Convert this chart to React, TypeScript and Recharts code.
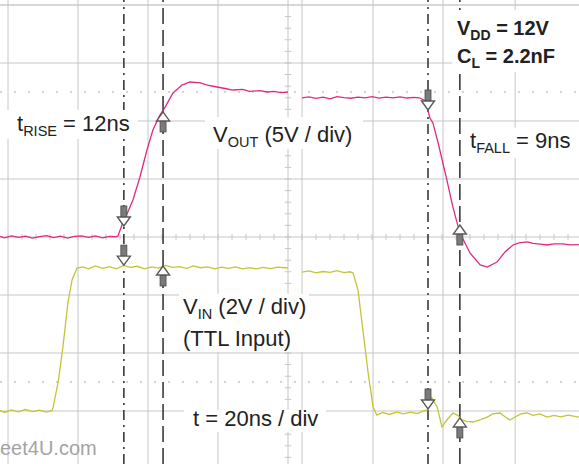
import { LineChart, Line, XAxis, YAxis, ReferenceLine, ReferenceDot } from 'recharts';

// Scope capture: 20 ns/div horizontally, VOUT 5 V/div, VIN 2 V/div.
// Left half shows the rising edge, right half the falling edge (two captures stitched).

const voutLeftT = [-2.3, -1, 1, 3, 5, 7, 9, 11, 13, 15, 17, 19, 21, 23, 25, 27, 29, 30.8, 31.4, 32.9, 34.3, 35.7, 37.7, 39.7, 41.4, 43.4, 44.9, 47.1, 49.7, 52, 54.9, 57, 59.7, 62, 64.3, 67, 69, 72, 74, 76, 78, 80];
const voutLeftV = [0.05, -0.08, 0.1, -0.03, 0.08, -0.1, 0.04, 0.12, -0.05, 0.07, -0.09, 0.06, 0.1, -0.04, 0.09, -0.07, 0.05, 0.02, 0.09, 1.3, 2.2, 3.19, 5.17, 7.5, 9.22, 10.5, 11.2, 12.4, 13.1, 13.36, 13.28, 13.1, 12.93, 12.8, 12.67, 12.72, 12.55, 12.62, 12.5, 12.56, 12.45, 12.5];

const voutRightT = [84, 86, 88, 90, 92, 94, 96, 98, 100, 102, 104, 106, 108, 110, 112, 114, 116, 117.5, 119.5, 120, 120.5, 121.4, 122.9, 125.4, 127.1, 129.1, 129.7, 132, 134.9, 136.9, 139.7, 142, 144.3, 146, 148.3, 150, 152, 154, 156, 158.6, 160.5, 163.1];
const voutRightV = [12.0, 12.08, 11.95, 12.05, 11.9, 12.1, 12.02, 11.96, 12.06, 12.0, 12.1, 11.97, 12.05, 12.0, 12.08, 11.98, 12.03, 12.0, 11.7, 10.9, 10.3, 9.83, 8.1, 4.91, 2.59, 0.34, 0, -1.38, -2.41, -2.59, -2.16, -1.29, -0.69, -0.5, -0.43, -0.55, -0.62, -0.69, -0.6, -0.6, -0.68, -0.66];

const vinLeftT = [-2.3, -1, 1, 3, 5, 7, 9, 11, 12.6, 12.9, 14.3, 15.7, 17.1, 18.3, 19.7, 21.4, 23, 25, 27, 29, 31, 33, 35, 37, 39, 41, 43, 45, 47, 49, 51, 53, 55, 57, 59, 61, 63, 65, 67, 69, 71, 73, 75, 77, 80];
const vinLeftV = [0.02, -0.05, 0.04, -0.03, 0.05, -0.02, 0.03, -0.04, 0.02, 0.14, 0.97, 2.21, 3.72, 4.52, 4.93, 4.97, 4.9, 5.0, 4.92, 4.98, 4.9, 5.02, 4.95, 4.99, 4.9, 4.97, 4.93, 5.02, 4.95, 4.98, 4.92, 5.0, 4.94, 4.97, 4.9, 4.96, 4.92, 4.97, 4.9, 4.94, 4.9, 4.95, 4.91, 4.96, 4.93];

const vinRightT = [84, 86, 88, 90, 92, 94, 96, 97.7, 98.6, 100, 101.4, 102.9, 104.3, 105.4, 107, 109, 111, 113, 115, 117, 118.6, 119.7, 121.1, 122.6, 124, 125.4, 127.1, 128.5, 129.7, 131, 132.9, 135, 136.9, 138.5, 140.6, 142, 143.4, 145, 146.5, 148.3, 150, 152, 154, 156, 158, 160, 163.1];
const vinRightV = [4.79, 4.83, 4.76, 4.81, 4.78, 4.84, 4.77, 4.8, 4.76, 4.17, 2.79, 1.31, 0.14, -0.14, -0.05, -0.12, -0.03, -0.1, -0.04, -0.09, 0.0, 0.03, 0.45, 0.14, -0.55, -0.31, -0.07, -0.15, -0.31, -0.36, -0.38, -0.3, -0.21, -0.1, -0.07, -0.2, -0.31, -0.2, -0.1, -0.07, -0.15, -0.1, -0.21, -0.15, -0.2, -0.14, -0.21];

// graticule (time in ns, level in divisions)
const gridTimes = [0, 20, 40, 60, 80, 84, 104.3, 124.3, 144.9];
const gridDivs = [-3, -2, -1, 0, 1, 2, 3, 4];
const dottedDivs = [2.5, -2.5];

// cursors: 10%/90% points of each edge
const dashDotCursors = [33.1, 120];
const dashedCursors = [44.3, 129.1];

const markers = [
  { t: 33.1, v: 0.95, trace: 'vout', up: false },
  { t: 44.3, v: 10.78, trace: 'vout', up: true },
  { t: 33.1, v: 5.03, trace: 'vin', up: false },
  { t: 44.3, v: 5.0, trace: 'vin', up: true },
  { t: 120, v: 10.95, trace: 'vout', up: false },
  { t: 129.1, v: 1.03, trace: 'vout', up: true },
  { t: 120, v: 0.07, trace: 'vin', up: false },
  { t: 129.1, v: -0.24, trace: 'vin', up: true },
];

const voutDiv = (v: number) => v / 5;
const vinDiv = (v: number) => v / 2 - 3;

type Row = { t: number; voutL?: number; voutR?: number; vinL?: number; vinR?: number };
const rows: Row[] = [];
const addSeries = (ts: number[], vs: number[], key: keyof Row, toDiv: (v: number) => number) => {
  ts.forEach((t, i) => rows.push({ t, [key]: toDiv(vs[i]) }));
};
addSeries(voutLeftT, voutLeftV, 'voutL', voutDiv);
addSeries(voutRightT, voutRightV, 'voutR', voutDiv);
addSeries(vinLeftT, vinLeftV, 'vinL', vinDiv);
addSeries(vinRightT, vinRightV, 'vinR', vinDiv);
rows.sort((a, b) => a.t - b.t);

// minor ticks on the centre lines
const hTicks: number[] = [];
for (let t = 0; t <= 160; t += 4) hTicks.push(t);
const vTicks: number[] = [];
for (let d = -3.8; d <= 3.9; d += 0.2) vTicks.push(Math.round(d * 10) / 10);

const MAGENTA = '#e02a82';
const YELLOW = '#c4c438';
const GRID = '#c6c6c6';
const FONT = '"Liberation Sans", Arial, sans-serif';

function CursorArrow(props: any) {
  const { cx, cy, up } = props;
  if (cx == null || cy == null) return null;
  const s = up ? 1 : -1;
  const head = 9;
  const len = 20;
  const headPath = `M${cx},${cy} L${cx - 6.5},${cy + s * head} L${cx + 6.5},${cy + s * head} Z`;
  const y0 = Math.min(cy + s * head, cy + s * len);
  return (
    <g>
      <rect x={cx - 3} y={y0} width={6} height={len - head} fill="#7a7a7a" stroke="#4a4a4a" strokeWidth={0.8} />
      <path d={headPath} fill="#fff" stroke="#5a5a5a" strokeWidth={1.4} />
    </g>
  );
}

export default function App() {
  return (
    <div style={{ position: 'absolute', left: 0, top: 0, width: 579, height: 464, background: '#fff' }}>
      <LineChart width={579} height={464} data={rows} margin={{ top: 0, right: 0, bottom: 0, left: 0 }}>
        <XAxis type="number" dataKey="t" domain={[-8 / 3.5, 571 / 3.5]} hide allowDataOverflow />
        <YAxis type="number" domain={[-3.914, 4.086]} hide allowDataOverflow />
        {gridDivs.map((d) => (
          <ReferenceLine key={'h' + d} y={d} stroke={d === 4 ? '#b0b0b0' : GRID} strokeWidth={1} />
        ))}
        {gridTimes.map((t) => (
          <ReferenceLine key={'v' + t} x={t} stroke={GRID} strokeWidth={1} />
        ))}
        {dottedDivs.map((d) => (
          <ReferenceLine key={'d' + d} y={d} stroke="#a8a8a8" strokeDasharray="2 12" strokeWidth={1} />
        ))}
        {hTicks.map((t) => (
          <ReferenceLine key={'ht' + t} segment={[{ x: t, y: -0.05 }, { x: t, y: 0.05 }]} stroke={GRID} />
        ))}
        {vTicks.map((d) => (
          <ReferenceLine key={'vt' + d} segment={[{ x: 79.1, y: d }, { x: 80.9, y: d }]} stroke={GRID} />
        ))}
        {dashDotCursors.map((t) => (
          <ReferenceLine key={'dd' + t} x={t} stroke="#3a3a3a" strokeWidth={1.6} strokeDasharray="10 5 2 5" />
        ))}
        {dashedCursors.map((t) => (
          <ReferenceLine key={'ds' + t} x={t} stroke="#3a3a3a" strokeWidth={1.6} strokeDasharray="16 6" />
        ))}
        <Line dataKey="voutL" stroke={MAGENTA} strokeWidth={1.3} dot={false} connectNulls isAnimationActive={false} />
        <Line dataKey="voutR" stroke={MAGENTA} strokeWidth={1.3} dot={false} connectNulls isAnimationActive={false} />
        <Line dataKey="vinL" stroke={YELLOW} strokeWidth={1.3} dot={false} connectNulls isAnimationActive={false} />
        <Line dataKey="vinR" stroke={YELLOW} strokeWidth={1.3} dot={false} connectNulls isAnimationActive={false} />
        {markers.map((m, i) => (
          <ReferenceDot
            key={'m' + i}
            x={m.t}
            y={m.trace === 'vout' ? voutDiv(m.v) : vinDiv(m.v)}
            r={0}
            shape={(p: any) => <CursorArrow cx={p.cx} cy={p.cy} up={m.up} />}
          />
        ))}
      </LineChart>

      <svg width={579} height={464} style={{ position: 'absolute', left: 0, top: 0, pointerEvents: 'none' }} fontFamily={FONT}>
        <rect x={0} y={110} width={138} height={29} fill="#fff" />
        <rect x={205} y={117} width={158} height={32} fill="#fff" />
        <rect x={452} y={10} width={127} height={62} fill="#fff" />
        <rect x={466} y={128} width={113} height={30} fill="#fff" />
        <rect x={179} y={294} width={130} height={58} fill="#fff" />
        <rect x={184} y={410} width={142} height={22} fill="#fff" />

        <text x={17} y={131} fontSize={22} fill="#222">
          t<tspan fontSize={14.5} dy={5}>RISE</tspan>
          <tspan dy={-5}> = 12ns</tspan>
        </text>
        <text x={213} y={142} fontSize={22} fill="#222">
          V<tspan fontSize={14.5} dy={5}>OUT</tspan>
          <tspan dy={-5}> (5V / div)</tspan>
        </text>
        <text x={457} y={35} fontSize={20} fontWeight="bold" fill="#222">
          V<tspan fontSize={14} dy={5}>DD</tspan>
          <tspan dy={-5}> = 12V</tspan>
        </text>
        <text x={457} y={63} fontSize={20} fontWeight="bold" fill="#222">
          C<tspan fontSize={14} dy={5}>L</tspan>
          <tspan dy={-5}> = 2.2nF</tspan>
        </text>
        <text x={470} y={148} fontSize={22} fill="#222">
          t<tspan fontSize={14.5} dy={5}>FALL</tspan>
          <tspan dy={-5}> = 9ns</tspan>
        </text>
        <text x={183} y={314} fontSize={22} fill="#222">
          V<tspan fontSize={14.5} dy={5}>IN</tspan>
          <tspan dy={-5}> (2V / div)</tspan>
        </text>
        <text x={183} y={346} fontSize={22} fill="#222">(TTL Input)</text>
        <text x={193} y={426} fontSize={22} fill="#222">t = 20ns / div</text>
        <text x={0} y={455} fontSize={20} fill="#a3a3a3">eet4U.com</text>
      </svg>
    </div>
  );
}
